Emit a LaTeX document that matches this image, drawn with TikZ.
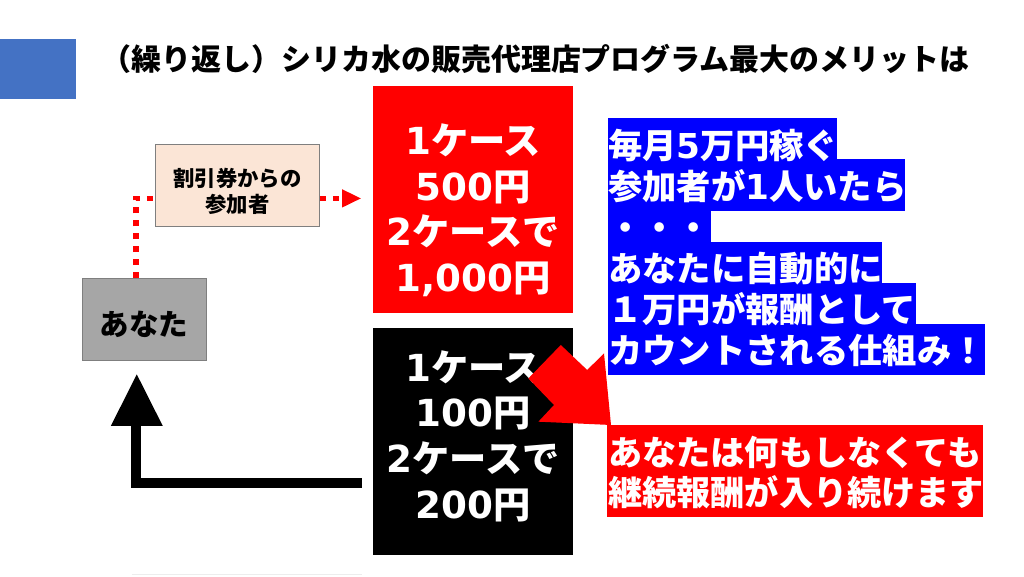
\documentclass[tikz,border=0pt]{standalone}
\usepackage{fontspec}
\setmainfont{Noto Sans CJK JP}
\newfontfamily\digitfont{DejaVu Sans}
\newcommand{\dg}[1]{{\digitfont #1}}
\definecolor{cornerBlue}{HTML}{4472C4}
\definecolor{peach}{HTML}{FBE5D6}
\definecolor{edgeGray}{HTML}{7F7F7F}
\definecolor{youGray}{HTML}{A6A6A6}
\definecolor{pureBlue}{HTML}{0000FF}
\definecolor{pureRed}{HTML}{FF0000}
\tikzset{
  lab/.style={text=black, align=center, inner sep=0pt},
  priceBox/.style={draw=none, inner sep=0pt, minimum width=5cm, minimum height=5.675cm},
  priceText/.style={text=white, align=center, inner sep=0pt, font=\fontsize{26.5}{32.5}\bfseries\selectfont},
  flowBox/.style={draw=edgeGray, line width=0.5pt, inner sep=0pt, minimum height=2.05cm},
  noteText/.style={text=white, align=left, anchor=west, inner sep=0pt},
  dotLine/.style={draw=pureRed, line width=3.8pt, dash pattern=on 4.2pt off 5pt},
  thickLine/.style={draw=black, line width=7.1pt}
}
\begin{document}
\begin{tikzpicture}
\useasboundingbox (0,0) rectangle (25.6,14.4);
\fill[white] (0,0) rectangle (25.6,14.4);
% title and corner mark
\fill[cornerBlue] (0,11.92) rectangle (1.9,13.425);
\node[lab, font=\fontsize{21.3}{24}\bfseries\selectfont, anchor=west] (title) at (2.54,12.93) {（繰り返し）シリカ水の販売代理店プログラム最大のメリットは};

% price boxes
\node[priceBox, fill=pureRed] (redBox) at (11.825,9.4125) {};
\node[priceText] (redText) at (11.825,9.14) {\dg{1}ケース\\\dg{500}円\\\dg{2}ケースで\\\dg{1,000}円};
\node[priceBox, fill=black] (blackBox) at (11.825,3.3625) {};
\node[priceText] (blackText) at (11.825,3.5) {\dg{1}ケース\\\dg{100}円\\\dg{2}ケースで\\\dg{200}円};

% left flow
\node[flowBox, fill=peach, minimum width=4.1cm] (coupon) at (5.94,9.775) {};
\node[lab, font=\fontsize{15.2}{18.7}\bfseries\selectfont] (couponText) at (5.94,9.62) {割引券からの\\参加者};
\node[flowBox, fill=youGray, minimum width=3.11cm] (you) at (3.605,6.425) {};
\node[lab, font=\fontsize{21}{24}\bfseries\selectfont] (youText) at (3.6,6.3) {あなた};
\coordinate (youTop) at (3.4,7.45);
\coordinate (bend) at (3.4,9.44);
\coordinate (headBase) at (8.55,9.44);
\draw[dotLine] (youTop) -- (bend) -- (coupon.west |- bend);
\draw[dotLine] (coupon.east |- bend) -- (headBase);
\fill[pureRed] (8.55,9.67) -- (9.02,9.44) -- (8.55,9.21) -- cycle;

% return arrow
\coordinate (backStart) at (9.04,2.3175);
\coordinate (backBend) at (3.41,2.3175);
\coordinate (backEnd) at (3.41,3.8);
\draw[thickLine] (backStart) -- (backBend) -- (backEnd);
\fill[black] (2.77,3.75) -- (3.42,5.04) -- (4.07,3.75) -- cycle;

% blue note
\fill[pureBlue] (15.2,10.425) rectangle (20.92,11.45);
\fill[pureBlue] (15.2,9.133) rectangle (22.625,10.425);
\fill[pureBlue] (15.2,8.358) rectangle (17.77,9.133);
\fill[pureBlue] (15.2,7.333) rectangle (22.05,8.358);
\fill[pureBlue] (15.2,6.3) rectangle (22.9,7.333);
\fill[pureBlue] (15.2,5.025) rectangle (24.62,6.3);
\node[noteText, font=\fontsize{24.4}{29.2}\bfseries\selectfont] (blueText) at (15.2,8.2) {毎月\dg{5}万円稼ぐ\\参加者が\dg{1}人いたら\\・・・\\あなたに自動的に\\１万円が報酬として\\カウントされる仕組み！};

% red note
\fill[pureRed] (15.17,1.465) rectangle (24.58,3.775);
\node[noteText, font=\fontsize{24.3}{28.5}\bfseries\selectfont] (redNote) at (15.2,2.59) {あなたは何もしなくても\\継続報酬が入り続けます};

% big diagonal arrow
\fill[pureRed] (14.02,5.775) -- (14.68,5.15) -- (15.1,5.567) -- (15.275,3.775) -- (13.46,3.858) -- (13.85,4.275) -- (13.21,4.94) -- cycle;

% faint edge at the bottom
\coordinate (edgeLeft) at (3.29,0.03);
\coordinate (edgeRight) at (9.04,0.03);
\draw[black!7, line width=0.5pt] (edgeLeft) -- (edgeRight);
\end{tikzpicture}
\end{document}
